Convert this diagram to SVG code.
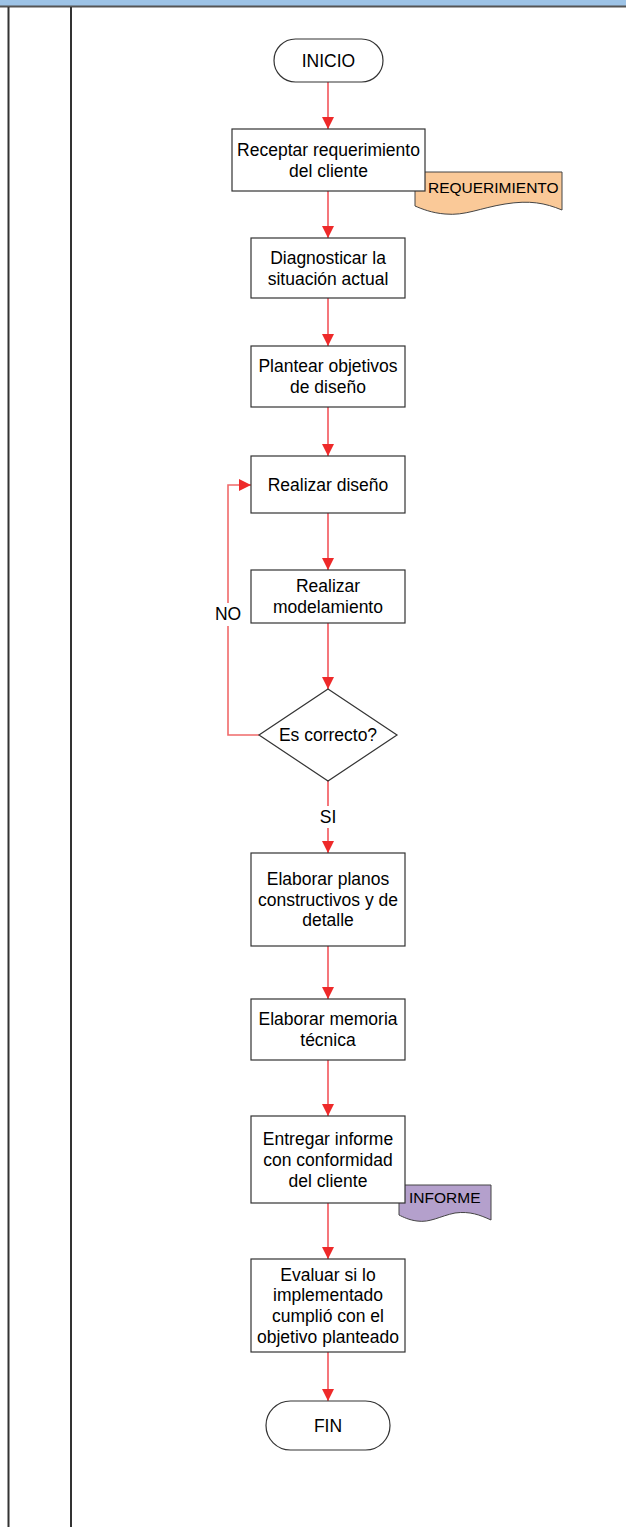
<svg xmlns="http://www.w3.org/2000/svg" width="626" height="1527" viewBox="0 0 626 1527">
<style>
.box{fill:#fff;stroke:#333;stroke-width:1.2}
.term{fill:#fff;stroke:#333;stroke-width:1.2}
.t{font-family:"Liberation Sans",Arial,sans-serif;font-size:17.5px;fill:#000;text-anchor:middle}
.dt{font-family:"Liberation Sans",Arial,sans-serif;font-size:15.5px;fill:#000}
.c{fill:none;stroke:#ee1c24;stroke-width:1.2}
.loop{fill:none;stroke:#f06a6a;stroke-width:1.6}
.lane{stroke:#333;stroke-width:2}
</style>
<defs>
<marker id="ah" markerUnits="userSpaceOnUse" markerWidth="12" markerHeight="12" viewBox="0 0 12 12" refX="12" refY="6" orient="auto">
<path d="M0,0 L12,6 L0,12 Z" fill="#ee2a2a"/>
</marker>
</defs>
<g id="frame">
<rect x="0" y="0" width="626" height="6" fill="#9dc3e6"/>
<line x1="0" y1="6.5" x2="626" y2="6.5" stroke="#555" stroke-width="2"/>
<line class="lane" x1="8.5" y1="7" x2="8.5" y2="1527"/>
<line class="lane" x1="71" y1="7" x2="71" y2="1527"/>
</g>
<g id="connectors">
<line class="c" x1="328" y1="82" x2="328" y2="129" marker-end="url(#ah)"/>
<line class="c" x1="328" y1="191" x2="328" y2="238" marker-end="url(#ah)"/>
<line class="c" x1="328" y1="298" x2="328" y2="346" marker-end="url(#ah)"/>
<line class="c" x1="328" y1="407" x2="328" y2="456" marker-end="url(#ah)"/>
<line class="c" x1="328" y1="513" x2="328" y2="570" marker-end="url(#ah)"/>
<line class="c" x1="328" y1="623" x2="328" y2="689" marker-end="url(#ah)"/>
<line class="c" x1="328" y1="781" x2="328" y2="806"/>
<line class="c" x1="328" y1="828" x2="328" y2="853" marker-end="url(#ah)"/>
<line class="c" x1="328" y1="946" x2="328" y2="999" marker-end="url(#ah)"/>
<line class="c" x1="328" y1="1060" x2="328" y2="1116" marker-end="url(#ah)"/>
<line class="c" x1="328" y1="1203" x2="328" y2="1259" marker-end="url(#ah)"/>
<line class="c" x1="328" y1="1352" x2="328" y2="1401" marker-end="url(#ah)"/>
<path class="loop" d="M259,735 H228 V626"/>
<path class="loop" d="M228,603 V485 H251" marker-end="url(#ah)"/>
<text class="t" x="228" y="620">NO</text>
<text class="t" x="328" y="823">SI</text>
</g>
<g id="n-inicio">
<rect class="term" x="274" y="39" width="109" height="43" rx="21.5"/>
<text class="t" x="328.5" y="66.5">INICIO</text>
</g>
<g id="n-requerimiento-doc">
<path d="M415,172 H562 V210 C545,203 530,200 505,204 C480,208 465,216 445,214 C432,213 422,209 415,206 Z" fill="#fac998" stroke="#444" stroke-width="1"/>
<text class="dt" x="428" y="193">REQUERIMIENTO</text>
</g>
<g id="n-receptar">
<rect class="box" x="232" y="129" width="193" height="62"/>
<text class="t" x="328.5" y="155.5">Receptar requerimiento</text>
<text class="t" x="328.5" y="176.5">del cliente</text>
</g>
<g id="n-diagnosticar">
<rect class="box" x="251" y="238" width="154" height="60"/>
<text class="t" x="328" y="263.5">Diagnosticar la</text>
<text class="t" x="328" y="284.5">situación actual</text>
</g>
<g id="n-plantear">
<rect class="box" x="251" y="346" width="154" height="61"/>
<text class="t" x="328" y="372">Plantear objetivos</text>
<text class="t" x="328" y="393">de diseño</text>
</g>
<g id="n-diseno">
<rect class="box" x="251" y="456" width="154" height="57"/>
<text class="t" x="328" y="490.5">Realizar diseño</text>
</g>
<g id="n-modelamiento">
<rect class="box" x="251" y="570" width="154" height="53"/>
<text class="t" x="328" y="592">Realizar</text>
<text class="t" x="328" y="613">modelamiento</text>
</g>
<g id="n-correcto">
<path class="box" d="M328,689 L397,735 L328,781 L259,735 Z"/>
<text class="t" x="328" y="741">Es correcto?</text>
</g>
<g id="n-planos">
<rect class="box" x="251" y="853" width="154" height="93"/>
<text class="t" x="328" y="885">Elaborar planos</text>
<text class="t" x="328" y="905.5">constructivos y de</text>
<text class="t" x="328" y="926">detalle</text>
</g>
<g id="n-memoria">
<rect class="box" x="251" y="999" width="154" height="61"/>
<text class="t" x="328" y="1025">Elaborar memoria</text>
<text class="t" x="328" y="1046">técnica</text>
</g>
<g id="n-informe-doc">
<path d="M399,1185 H491 V1220 C480,1215 470,1211 455,1213 C440,1216 430,1223 417,1221 C409,1220 403,1217 399,1215 Z" fill="#b4a0cc" stroke="#444" stroke-width="1"/>
<text class="dt" x="409" y="1203">INFORME</text>
</g>
<g id="n-entregar">
<rect class="box" x="251" y="1116" width="154" height="87"/>
<text class="t" x="328" y="1144.5">Entregar informe</text>
<text class="t" x="328" y="1165.5">con conformidad</text>
<text class="t" x="328" y="1186.5">del cliente</text>
</g>
<g id="n-evaluar">
<rect class="box" x="251" y="1259" width="154" height="93"/>
<text class="t" x="328" y="1280.5">Evaluar si lo</text>
<text class="t" x="328" y="1301">implementado</text>
<text class="t" x="328" y="1322">cumplió con el</text>
<text class="t" x="328" y="1342.5">objetivo planteado</text>
</g>
<g id="n-fin">
<rect class="term" x="266" y="1401" width="124" height="49" rx="24.5"/>
<text class="t" x="328" y="1431.5">FIN</text>
</g>
</svg>
